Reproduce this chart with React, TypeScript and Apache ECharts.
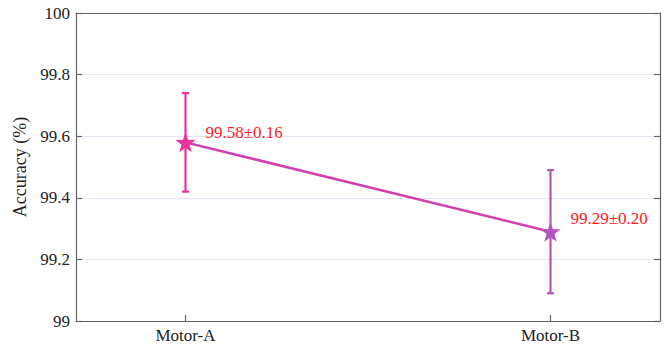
import React, { useEffect, useRef } from "react";
import * as echarts from "echarts";

const categories = ["Motor-A", "Motor-B"];
const means = [99.58, 99.29];
const stds = [0.16, 0.2];
const pointColors = ["#EC3399", "#B455BE"];
const labelOffsets = [-10, -13];
const yTicks = [99, 99.2, 99.4, 99.6, 99.8, 100];

const FONT = "Times New Roman, Liberation Serif, serif";
const STAR =
  "path://M0,-10 L2.35,-3.24 L9.51,-3.09 L3.8,1.24 L5.88,8.09 L0,4 L-5.88,8.09 L-3.8,1.24 L-9.51,-3.09 L-2.35,-3.24 Z";

export default function App() {
  const ref = useRef<HTMLDivElement>(null);
  useEffect(() => {
    document.body.style.margin = "0";
    if (!ref.current) return;
    const chart = echarts.init(ref.current, null, { renderer: "svg" });
    const xs = categories.map((_, i) => i + 1);
    const axisLineStyle = { color: "#666666", width: 1.2 };
    const textBase = { fontFamily: FONT, color: "#222" };
    chart.setOption({
      animation: false,
      textStyle: { fontFamily: FONT },
      grid: { left: 76, right: 6, top: 13, bottom: 28, containLabel: false },
      xAxis: [
        {
          type: "value",
          min: 0.7,
          max: 2.3,
          position: "bottom",
          axisLine: { show: true, onZero: false, lineStyle: axisLineStyle },
          axisTick: { show: true, inside: true, length: 6, customValues: xs, lineStyle: axisLineStyle },
          axisLabel: {
            ...textBase,
            customValues: xs,
            formatter: (v: number) => categories[Math.round(v) - 1] ?? "",
            fontSize: 17,
            margin: 6,
          },
          splitLine: { show: false },
        },
        {
          type: "value",
          min: 0.7,
          max: 2.3,
          position: "top",
          axisLine: { show: true, onZero: false, lineStyle: axisLineStyle },
          axisTick: { show: false },
          axisLabel: { show: false },
          splitLine: { show: false },
        },
      ],
      yAxis: [
        {
          type: "value",
          min: 99,
          max: 100,
          interval: 0.2,
          position: "left",
          name: "Accuracy (%)",
          nameLocation: "middle",
          nameGap: 44,
          nameTextStyle: { ...textBase, fontSize: 18 },
          axisLine: { show: true, lineStyle: axisLineStyle },
          axisTick: { show: true, inside: true, length: 6, lineStyle: axisLineStyle },
          axisLabel: {
            ...textBase,
            fontSize: 17,
            margin: 6,
            formatter: (v: number) => {
              const t = yTicks.find((k) => Math.abs(k - v) < 1e-6);
              return t === undefined ? "" : String(t);
            },
          },
          splitLine: { show: true, lineStyle: { color: "#E4E4F4", width: 1 } },
        },
        {
          type: "value",
          min: 99,
          max: 100,
          interval: 0.2,
          position: "right",
          axisLine: { show: true, lineStyle: axisLineStyle },
          axisTick: { show: true, inside: true, length: 6, lineStyle: axisLineStyle },
          axisLabel: { show: false },
          splitLine: { show: false },
        },
      ],
      series: [
        {
          type: "custom",
          xAxisIndex: 0,
          yAxisIndex: 0,
          data: xs.map((x, i) => [x, means[i] - stds[i], means[i] + stds[i], i]),
          renderItem: (params: any, api: any) => {
            const x = api.value(0);
            const lo = api.coord([x, api.value(1)]);
            const hi = api.coord([x, api.value(2)]);
            const color = pointColors[api.value(3)];
            const cap = 3.5;
            const style = { stroke: color, lineWidth: 2.2 };
            return {
              type: "group",
              children: [
                { type: "line", shape: { x1: lo[0], y1: lo[1], x2: hi[0], y2: hi[1] }, style },
                { type: "line", shape: { x1: hi[0] - cap, y1: hi[1], x2: hi[0] + cap, y2: hi[1] }, style },
                { type: "line", shape: { x1: lo[0] - cap, y1: lo[1], x2: lo[0] + cap, y2: lo[1] }, style },
              ],
            };
          },
          z: 2,
        },
        {
          type: "line",
          xAxisIndex: 0,
          yAxisIndex: 0,
          lineStyle: { color: "#D23FAF", width: 2.5 },
          symbol: STAR,
          symbolSize: 20,
          z: 3,
          data: xs.map((x, i) => ({
            value: [x, means[i]],
            itemStyle: { color: pointColors[i], borderWidth: 0 },
            label: {
              show: true,
              position: "right",
              distance: 10,
              offset: [0, labelOffsets[i]],
              formatter: `${means[i].toFixed(2)}±${stds[i].toFixed(2)}`,
              color: "#FF1A1A",
              fontFamily: FONT,
              fontSize: 17,
            },
          })),
        },
      ],
    });
    return () => chart.dispose();
  }, []);
  return <div ref={ref} style={{ width: 666, height: 349 }} />;
}
